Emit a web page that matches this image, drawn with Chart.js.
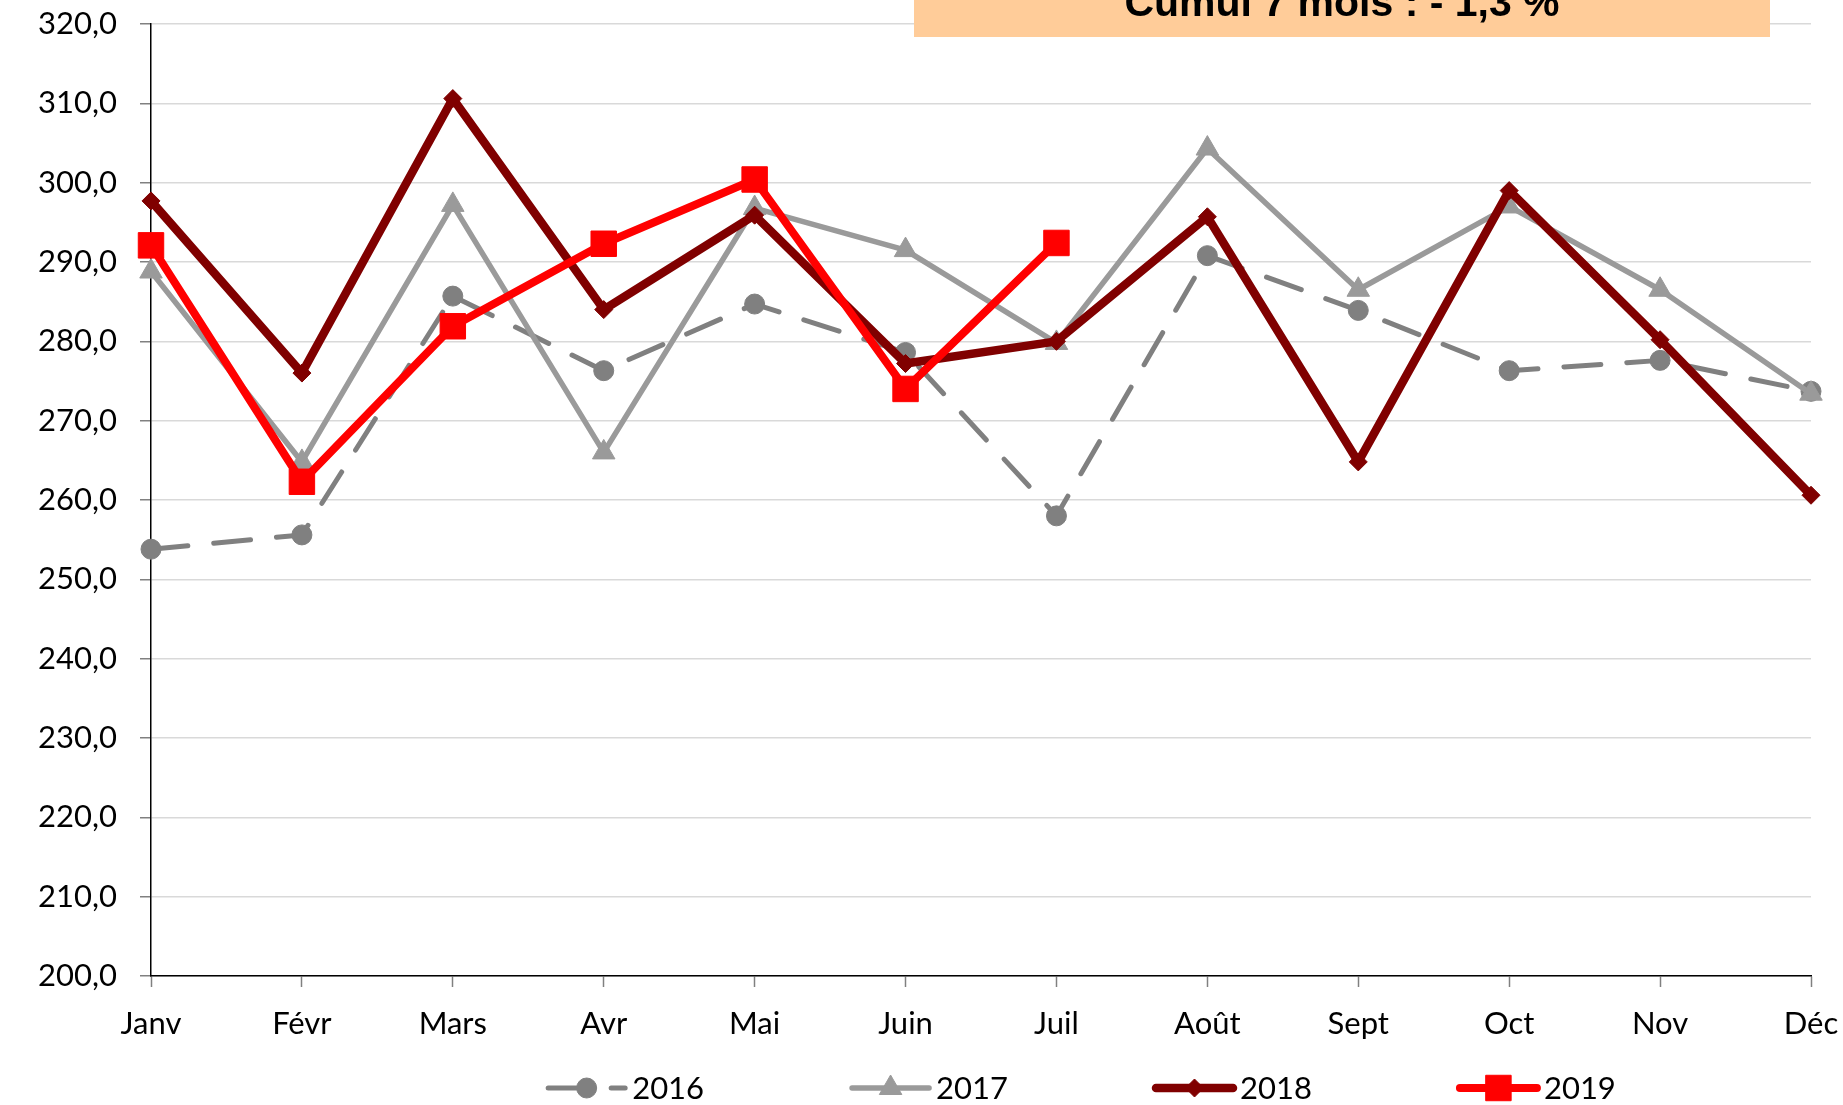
<!DOCTYPE html>
<html><head><meta charset="utf-8">
<script src="https://cdn.jsdelivr.net/npm/chart.js@4.4.0/dist/chart.umd.min.js"></script>
<style>html,body{margin:0;padding:0;background:#fff;overflow:hidden}</style>
</head><body>
<canvas id="c" width="1843" height="1105"></canvas>
<script>
// ---- data ----
const months = ['Janv','Févr','Mars','Avr','Mai','Juin','Juil','Août','Sept','Oct','Nov','Déc'];
const v2016 = [253.8,255.6,285.7,276.3,284.7,278.6,258.0,290.8,283.9,276.3,277.6,273.7];
const v2017 = [288.8,264.8,297.2,266.0,296.8,291.5,279.8,304.3,286.5,297.0,286.5,273.4];
const v2018 = [297.7,276.0,310.6,284.0,295.9,277.2,280.0,295.7,264.8,299.0,280.2,260.6];
const v2019 = [292.1,262.3,281.9,292.3,300.4,274.0,292.4];
const seriesNames = ['2016','2017','2018','2019'];
const yMin = 200, yMax = 320, yStep = 10;
const bannerText = 'Cumul 7 mois : - 1,3 %';

// ---- styles ----
const styles = [
  {color:'#808080', lw:5,   dash:[37,26], point:'circle',   r:10},
  {color:'#9a9a9a', lw:5.5, dash:[],      point:'triangle', r:13},
  {color:'#800000', lw:8.5, dash:[],      point:'rectRot',  r:9},
  {color:'#ff0000', lw:8,   dash:[],      point:'rect',     r:18}
];
const values = [v2016, v2017, v2018, v2019];
const FONT = 'Lato, "Open Sans", sans-serif';

const datasets = seriesNames.map((name, i) => ({
  label: name,
  data: values[i],
  borderColor: styles[i].color,
  backgroundColor: styles[i].color,
  borderWidth: styles[i].lw,
  borderDash: styles[i].dash,
  borderCapStyle: 'round',
  borderJoinStyle: 'round',
  pointStyle: styles[i].point,
  pointRadius: styles[i].r,
  pointHoverRadius: styles[i].r,
  pointBackgroundColor: styles[i].color,
  pointBorderColor: styles[i].color,
  pointBorderWidth: 1,
  tension: 0,
  clip: false,
  order: 3 - i
}));

function drawMarker(ctx, st, x, y) {
  ctx.save();
  ctx.fillStyle = st.color; ctx.strokeStyle = st.color; ctx.setLineDash([]);
  if (Chart.helpers && Chart.helpers.drawPoint) {
    Chart.helpers.drawPoint(ctx, {pointStyle: st.point, radius: st.r, rotation: 0, borderWidth: 1}, x, y);
  } else {
    ctx.beginPath(); ctx.arc(x, y, st.r, 0, Math.PI*2); ctx.fill();
  }
  ctx.restore();
}

const decor = {
  id: 'decor',
  afterDraw(chart) {
    const ctx = chart.ctx;
    // banner
    ctx.save();
    ctx.fillStyle = '#ffcc99';
    ctx.fillRect(914, 0, 856, 37);
    ctx.fillStyle = '#000';
    ctx.font = 'bold 41px "Liberation Sans", Arial, sans-serif';
    ctx.textAlign = 'center';
    ctx.textBaseline = 'alphabetic';
    ctx.fillText(bannerText, 1342, 16);
    ctx.restore();
    // legend
    ctx.save();
    ctx.font = '31px ' + FONT;
    const lineLen = 77, gapText = 7, gapItem = 148;
    const widths = seriesNames.map(n => ctx.measureText(n).width);
    const total = widths.reduce((a, w) => a + lineLen + gapText + w, 0) + gapItem * (seriesNames.length - 1);
    let x = 1082 - total / 2;
    const y = 1088;
    seriesNames.forEach((n, i) => {
      const st = styles[i];
      ctx.save();
      ctx.strokeStyle = st.color; ctx.lineWidth = st.lw; ctx.lineCap = 'round';
      ctx.setLineDash(st.dash);
      ctx.beginPath(); ctx.moveTo(x, y); ctx.lineTo(x + lineLen, y); ctx.stroke();
      ctx.restore();
      drawMarker(ctx, st, x + lineLen / 2, y);
      ctx.fillStyle = '#000'; ctx.textAlign = 'left'; ctx.textBaseline = 'middle';
      ctx.fillText(n, x + lineLen + gapText, y + 1);
      x += lineLen + gapText + widths[i] + gapItem;
    });
    ctx.restore();
  }
};

new Chart(document.getElementById('c'), {
  type: 'line',
  data: { labels: months, datasets },
  plugins: [decor],
  options: {
    responsive: false,
    animation: false,
    events: [],
    layout: { padding: { top: 24, right: 32, bottom: 54, left: 0 } },
    plugins: { legend: { display: false }, tooltip: { enabled: false }, title: { display: false } },
    scales: {
      x: {
        type: 'category',
        offset: false,
        afterFit(s) { s.height = 75; s.paddingLeft = 0; s.paddingRight = 0; },
        grid: { drawOnChartArea: false, drawTicks: true, tickLength: 11, tickColor: '#808080', tickWidth: 1.5 },
        border: { color: '#000', width: 1.5 },
        ticks: { font: { family: FONT, size: 31 }, color: '#000', padding: 18, maxRotation: 0, autoSkip: false }
      },
      y: {
        min: yMin, max: yMax,
        afterFit(s) { s.width = 151; s.paddingTop = 0; s.paddingBottom = 0; },
        grid: { color: '#d9d9d9', lineWidth: 1.5, tickLength: 11, tickColor: '#808080', tickWidth: 1.5 },
        border: { color: '#000', width: 1.5 },
        ticks: {
          stepSize: yStep,
          font: { family: FONT, size: 31 }, color: '#000', padding: 23,
          callback: v => v.toFixed(1).replace('.', ',')
        }
      }
    }
  }
});
</script>
</body></html>
